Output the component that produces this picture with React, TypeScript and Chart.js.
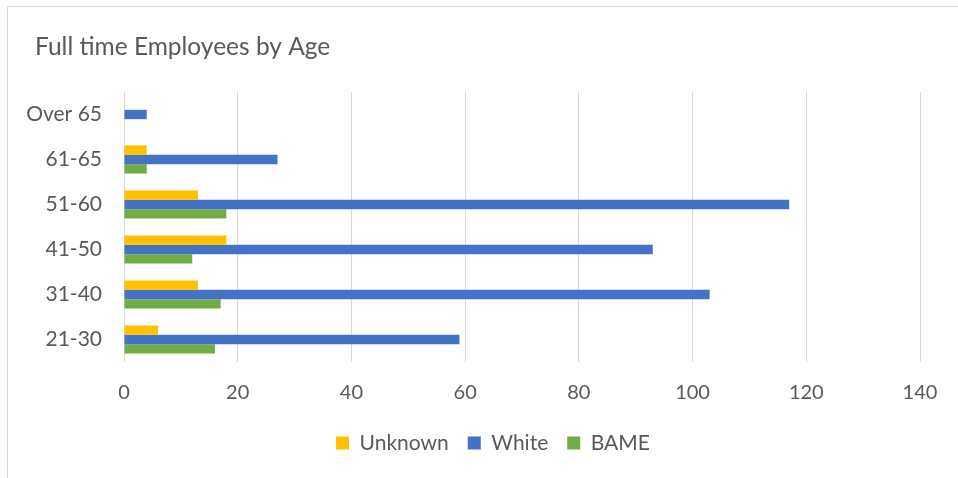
import React, { useEffect, useRef } from "react";
import { Chart, registerables } from "chart.js";

Chart.register(...registerables);

const titleText = "Full time Employees by Age";
const categories = ["Over 65", "61-65", "51-60", "41-50", "31-40", "21-30"];
const unknownValues = [0, 4, 13, 18, 13, 6];
const whiteValues = [4, 27, 117, 93, 103, 59];
const bameValues = [0, 4, 18, 12, 17, 16];
const xTicks = [0, 20, 40, 60, 80, 100, 120, 140];

const FONT = "Lato, 'Open Sans', sans-serif";
const TEXT = "#595959";

const titlePlugin = {
  id: "leftTitle",
  afterLayout(chart: any) {
    // nudge legend to match the reference's placement
    if (chart.legend) {
      chart.legend.left += 33;
      chart.legend.right += 33;
      chart.legend.top += 2.5;
      chart.legend.bottom += 2.5;
    }
  },
  afterDraw(chart: any) {
    const ctx = chart.ctx;
    ctx.save();
    ctx.fillStyle = TEXT;
    ctx.font = `normal 24.5px ${FONT}`;
    ctx.textAlign = "left";
    ctx.textBaseline = "alphabetic";
    ctx.fillText(titleText, 35, 55);
    ctx.restore();
  },
};

export default function App() {
  const ref = useRef<HTMLCanvasElement | null>(null);

  useEffect(() => {
    if (!ref.current) return;
    const chart = new Chart(ref.current, {
      type: "bar",
      data: {
        labels: categories,
        datasets: [
          { label: "Unknown", data: unknownValues, backgroundColor: "#FFC000" },
          { label: "White", data: whiteValues, backgroundColor: "#4472C4" },
          { label: "BAME", data: bameValues, backgroundColor: "#70AD47" },
        ],
      },
      plugins: [titlePlugin],
      options: {
        indexAxis: "y",
        responsive: false,
        animation: false,
        devicePixelRatio: 1,
        layout: { padding: { left: 0, right: 38, top: 92, bottom: 17 } },
        datasets: { bar: { categoryPercentage: 0.625, barPercentage: 1, borderWidth: 0 } },
        plugins: {
          title: { display: false },
          legend: {
            position: "bottom",
            labels: {
              boxWidth: 13,
              boxHeight: 13,
              padding: 19,
              color: TEXT,
              font: { family: FONT, size: 21 },
            },
          },
          tooltip: { enabled: false },
        },
        scales: {
          x: {
            min: 0,
            max: 140,
            afterBuildTicks: (scale: any) => {
              scale.ticks = xTicks.map((v) => ({ value: v }));
            },
            afterFit: (scale: any) => {
              scale.height = 49;
            },
            grid: { color: "#d9d9d9", lineWidth: 1, drawTicks: false },
            border: { display: false },
            ticks: { color: TEXT, font: { family: FONT, size: 20 }, padding: 19 },
          },
          y: {
            afterFit: (scale: any) => {
              scale.width = 124;
            },
            grid: { display: false, drawTicks: false },
            border: { display: false },
            ticks: { color: TEXT, font: { family: FONT, size: 21 }, padding: 22 },
          },
        },
      },
    });
    return () => chart.destroy();
  }, []);

  return (
    <div style={{ position: "fixed", left: 0, top: 0, width: 958, height: 478, background: "#fff", overflow: "hidden" }}>
      <div
        style={{
          position: "absolute",
          left: 7,
          top: 6,
          width: 1000,
          height: 1000,
          borderLeft: "1px solid #d9d9d9",
          borderTop: "1px solid #d9d9d9",
        }}
      />
      <canvas ref={ref} width={958} height={478} style={{ position: "absolute", left: 0, top: 0, width: 958, height: 478 }} />
    </div>
  );
}
